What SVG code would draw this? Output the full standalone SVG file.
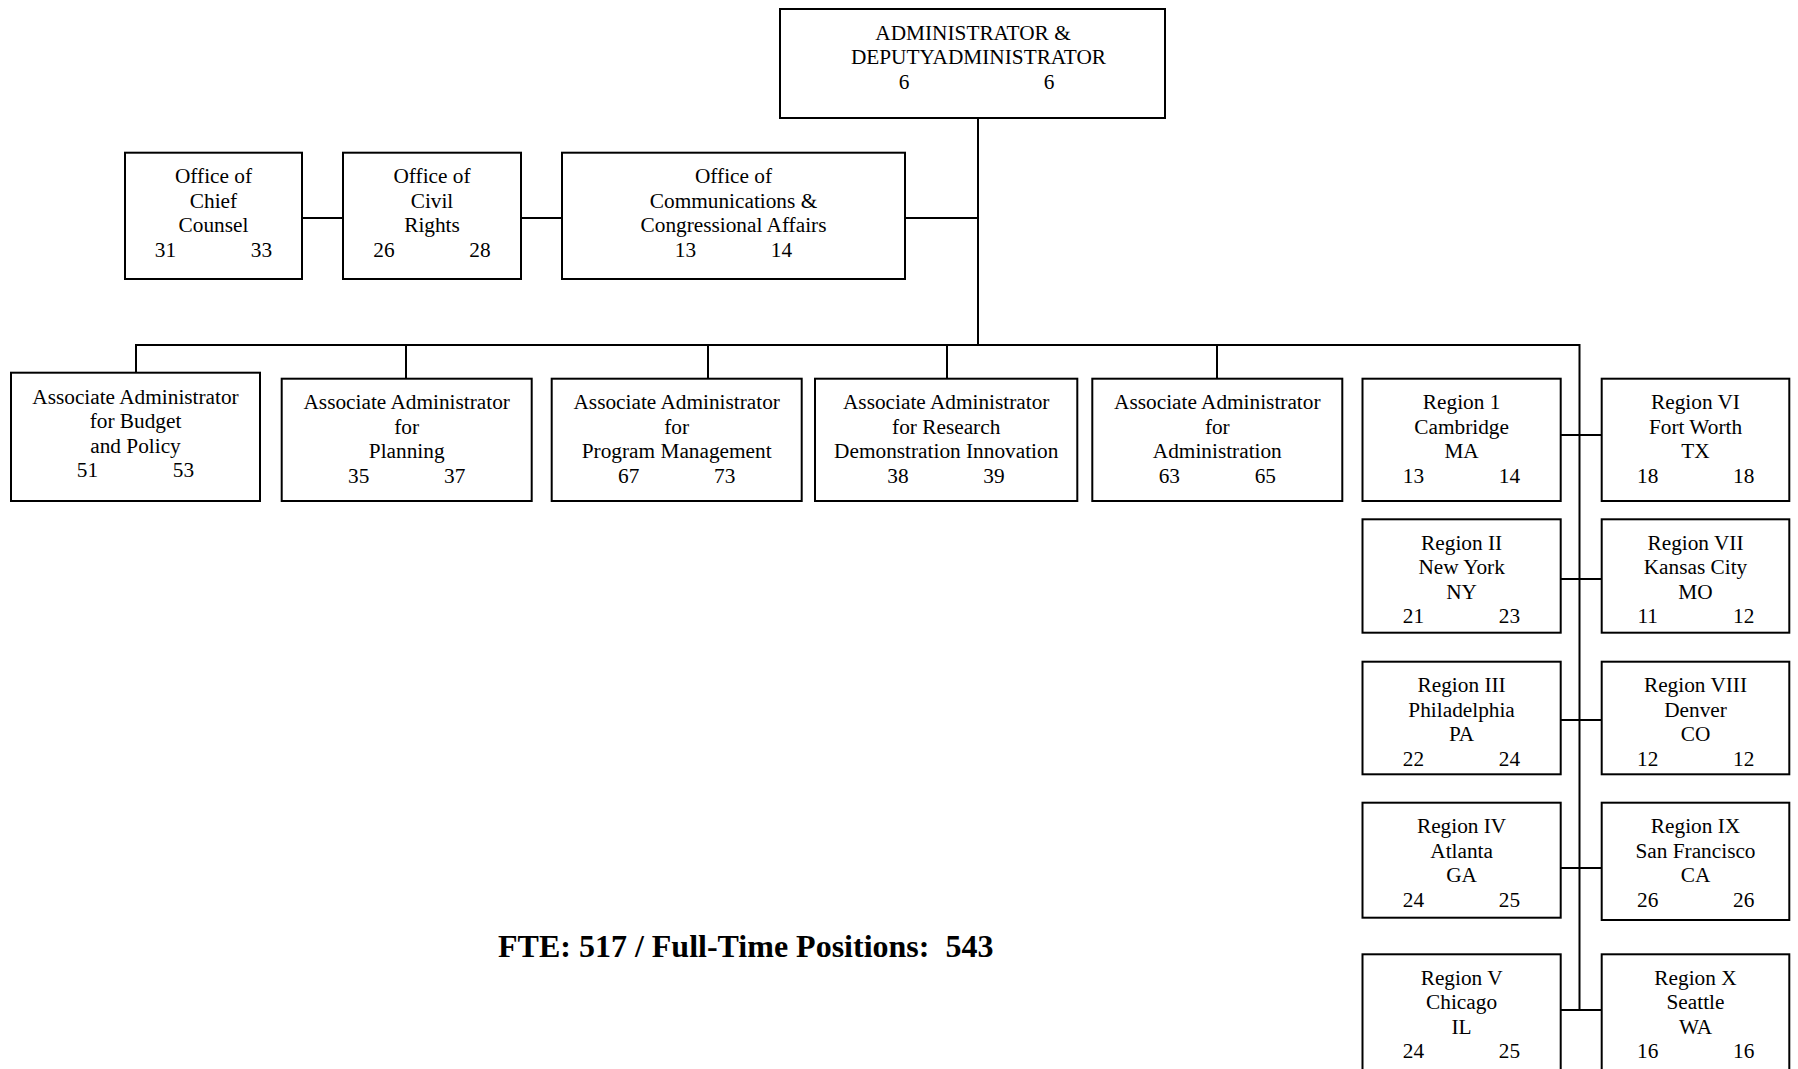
<svg xmlns="http://www.w3.org/2000/svg" width="1798" height="1069" viewBox="0 0 1798 1069">
<style>
.box{fill:#fff;stroke:#000;stroke-width:2}
.conn line{stroke:#000;stroke-width:2}
text{font-family:"Liberation Serif","Times New Roman",serif;font-size:21.3px;fill:#000;text-anchor:middle}
.fte{font-size:32px;font-weight:bold;text-anchor:start;white-space:pre}
</style>
<rect x="0" y="0" width="1798" height="1069" fill="#fff"/>
<g id="connectors" class="conn">
<line x1="978" y1="118" x2="978" y2="345"/>
<line x1="302" y1="218" x2="343" y2="218"/>
<line x1="521" y1="218" x2="562" y2="218"/>
<line x1="905" y1="218" x2="978" y2="218"/>
<line x1="135" y1="345" x2="1580" y2="345"/>
<line x1="136" y1="344" x2="136" y2="380"/>
<line x1="406" y1="344" x2="406" y2="379"/>
<line x1="708" y1="344" x2="708" y2="379"/>
<line x1="947" y1="344" x2="947" y2="379"/>
<line x1="1217" y1="344" x2="1217" y2="379"/>
<line x1="1579.5" y1="344" x2="1579.5" y2="1010"/>
<line x1="1561" y1="435" x2="1602" y2="435"/>
<line x1="1561" y1="579" x2="1602" y2="579"/>
<line x1="1561" y1="720" x2="1602" y2="720"/>
<line x1="1561" y1="868" x2="1602" y2="868"/>
<line x1="1561" y1="1010" x2="1602" y2="1010"/>
</g>
<g id="administrator">
<rect class="box" x="780" y="9" width="385" height="109"/>
<text x="973" y="39.5">ADMINISTRATOR &amp;</text>
<text x="978.5" y="64">DEPUTYADMINISTRATOR</text>
<text x="904" y="88.5">6</text><text x="1049" y="88.5">6</text>
</g>
<g id="chief-counsel" transform="translate(125,152.7)">
<rect class="box" x="0" y="0" width="177" height="126.3"/>
<text x="88.5" y="30.5">Office of</text><text x="88.5" y="55">Chief</text><text x="88.5" y="79.5">Counsel</text>
<text x="40.5" y="104">31</text><text x="136.5" y="104">33</text>
</g>
<g id="civil-rights" transform="translate(343,152.7)">
<rect class="box" x="0" y="0" width="178" height="126.3"/>
<text x="89" y="30.5">Office of</text><text x="89" y="55">Civil</text><text x="89" y="79.5">Rights</text>
<text x="41" y="104">26</text><text x="137" y="104">28</text>
</g>
<g id="communications" transform="translate(562,152.7)">
<rect class="box" x="0" y="0" width="343" height="126.3"/>
<text x="171.5" y="30.5">Office of</text><text x="171.5" y="55">Communications &amp;</text><text x="171.5" y="79.5">Congressional Affairs</text>
<text x="123.5" y="104">13</text><text x="219.5" y="104">14</text>
</g>
<g id="budget-policy" transform="translate(11,372.7)">
<rect class="box" x="0" y="0" width="249" height="128.3"/>
<text x="124.5" y="31">Associate Administrator</text><text x="124.5" y="55.5">for Budget</text><text x="124.5" y="80">and Policy</text>
<text x="76.5" y="104.5">51</text><text x="172.5" y="104.5">53</text>
</g>
<g id="planning" transform="translate(281.7,378.7)">
<rect class="box" x="0" y="0" width="250" height="122.3"/>
<text x="125" y="30.5">Associate Administrator</text><text x="125" y="55">for</text><text x="125" y="79.5">Planning</text>
<text x="77" y="104">35</text><text x="173" y="104">37</text>
</g>
<g id="program-management" transform="translate(551.7,378.7)">
<rect class="box" x="0" y="0" width="250" height="122.3"/>
<text x="125" y="30.5">Associate Administrator</text><text x="125" y="55">for</text><text x="125" y="79.5">Program Management</text>
<text x="77" y="104">67</text><text x="173" y="104">73</text>
</g>
<g id="research" transform="translate(815,378.7)">
<rect class="box" x="0" y="0" width="262.3" height="122.3"/>
<text x="131.2" y="30.5">Associate Administrator</text><text x="131.2" y="55">for Research</text><text x="131.2" y="79.5">Demonstration Innovation</text>
<text x="83" y="104">38</text><text x="179" y="104">39</text>
</g>
<g id="administration" transform="translate(1092.3,378.7)">
<rect class="box" x="0" y="0" width="250" height="122.3"/>
<text x="125" y="30.5">Associate Administrator</text><text x="125" y="55">for</text><text x="125" y="79.5">Administration</text>
<text x="77" y="104">63</text><text x="173" y="104">65</text>
</g>
<g id="region-1" transform="translate(1362.5,378.7)">
<rect class="box" x="0" y="0" width="198.2" height="122.3"/>
<text x="99.1" y="30.5">Region 1</text><text x="99.1" y="55">Cambridge</text><text x="99.1" y="79.5">MA</text>
<text x="51" y="104">13</text><text x="147" y="104">14</text>
</g>
<g id="region-6" transform="translate(1601.7,378.7)">
<rect class="box" x="0" y="0" width="187.6" height="122.3"/>
<text x="93.8" y="30.5">Region VI</text><text x="93.8" y="55">Fort Worth</text><text x="93.8" y="79.5">TX</text>
<text x="46" y="104">18</text><text x="142" y="104">18</text>
</g>
<g id="region-2" transform="translate(1362.5,519.3)">
<rect class="box" x="0" y="0" width="198.2" height="113.4"/>
<text x="99.1" y="30.5">Region II</text><text x="99.1" y="55">New York</text><text x="99.1" y="79.5">NY</text>
<text x="51" y="104">21</text><text x="147" y="104">23</text>
</g>
<g id="region-7" transform="translate(1601.7,519.3)">
<rect class="box" x="0" y="0" width="187.6" height="113.4"/>
<text x="93.8" y="30.5">Region VII</text><text x="93.8" y="55">Kansas City</text><text x="93.8" y="79.5">MO</text>
<text x="46" y="104">11</text><text x="142" y="104">12</text>
</g>
<g id="region-3" transform="translate(1362.5,661.7)">
<rect class="box" x="0" y="0" width="198.2" height="112.6"/>
<text x="99.1" y="30.5">Region III</text><text x="99.1" y="55">Philadelphia</text><text x="99.1" y="79.5">PA</text>
<text x="51" y="104">22</text><text x="147" y="104">24</text>
</g>
<g id="region-8" transform="translate(1601.7,661.7)">
<rect class="box" x="0" y="0" width="187.6" height="112.6"/>
<text x="93.8" y="30.5">Region VIII</text><text x="93.8" y="55">Denver</text><text x="93.8" y="79.5">CO</text>
<text x="46" y="104">12</text><text x="142" y="104">12</text>
</g>
<g id="region-4" transform="translate(1362.5,802.7)">
<rect class="box" x="0" y="0" width="198.2" height="115"/>
<text x="99.1" y="30.5">Region IV</text><text x="99.1" y="55">Atlanta</text><text x="99.1" y="79.5">GA</text>
<text x="51" y="104">24</text><text x="147" y="104">25</text>
</g>
<g id="region-9" transform="translate(1601.7,802.7)">
<rect class="box" x="0" y="0" width="187.6" height="117.3"/>
<text x="93.8" y="30.5">Region IX</text><text x="93.8" y="55">San Francisco</text><text x="93.8" y="79.5">CA</text>
<text x="46" y="104">26</text><text x="142" y="104">26</text>
</g>
<g id="region-5" transform="translate(1362.5,954.3)">
<rect class="box" x="0" y="0" width="198.2" height="130"/>
<text x="99.1" y="30.5">Region V</text><text x="99.1" y="55">Chicago</text><text x="99.1" y="79.5">IL</text>
<text x="51" y="104">24</text><text x="147" y="104">25</text>
</g>
<g id="region-10" transform="translate(1601.7,954.3)">
<rect class="box" x="0" y="0" width="187.6" height="130"/>
<text x="93.8" y="30.5">Region X</text><text x="93.8" y="55">Seattle</text><text x="93.8" y="79.5">WA</text>
<text x="46" y="104">16</text><text x="142" y="104">16</text>
</g>
<text class="fte" x="498" y="957">FTE: 517 / Full-Time Positions:  543</text>
</svg>
